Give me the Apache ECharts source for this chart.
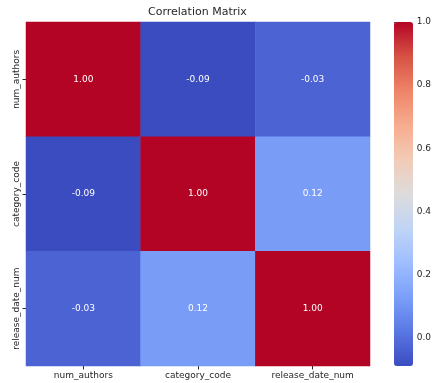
<!DOCTYPE html>
<html>
<head>
<meta charset="utf-8">
<script src="https://cdn.jsdelivr.net/npm/echarts@6/dist/echarts.min.js"></script>
<style>
  html, body { margin: 0; padding: 0; background: #fff; }
  #chart { width: 434px; height: 383px; }
</style>
</head>
<body>
<div id="chart"></div>
<script>
const labels = ["num_authors", "category_code", "release_date_num"];
const corr = [
  [1.00, -0.09, -0.03],
  [-0.09, 1.00, 0.12],
  [-0.03, 0.12, 1.00],
];
const cbarTicks = [0.0, 0.2, 0.4, 0.6, 0.8, 1.0];
const vMin = -0.09, vMax = 1.0;

// matplotlib coolwarm, 11 stops
const coolwarm = ["#3b4cc0", "#5977e3", "#7b9ff9", "#9ebeff", "#c0d4f5", "#dddcdc",
                  "#f2cbb7", "#f7ac8e", "#ee8468", "#d65244", "#b40426"];

const heatData = [];
for (let i = 0; i < labels.length; i++)
  for (let j = 0; j < labels.length; j++)
    heatData.push([j, i, corr[i][j]]);

const font = "DejaVu Sans";
const txt = "#262626";

const chart = echarts.init(document.getElementById("chart"));
chart.setOption({
  animation: false,
  backgroundColor: "#fff",
  textStyle: { fontFamily: font },
  title: {
    text: "Correlation Matrix", left: 148, top: 7, padding: 0,
    textStyle: { fontFamily: font, fontSize: 11, fontWeight: "normal", color: txt },
  },
  grid: [
    { left: 26, top: 22, width: 344, height: 344 },
    { left: 394, top: 22, width: 19, height: 344 },
  ],
  xAxis: [{
    type: "category", data: labels, gridIndex: 0,
    axisLine: { show: false }, splitLine: { show: false },
    axisTick: { show: true, alignWithLabel: true, length: 3.5, lineStyle: { color: txt } },
    axisLabel: { color: txt, fontSize: 9, margin: 5 },
  }, {
    type: "value", gridIndex: 1, show: false, min: 0, max: 1,
  }],
  yAxis: [{
    type: "category", data: labels, gridIndex: 0, inverse: true,
    axisLine: { show: false }, splitLine: { show: false },
    axisTick: { show: true, alignWithLabel: true, length: 3.5, lineStyle: { color: txt } },
    axisLabel: { color: txt, fontSize: 9, rotate: 90, margin: 5 },
  }, {
    type: "value", gridIndex: 1, position: "right", min: vMin, max: vMax,
    axisLine: { show: false }, splitLine: { show: false },
    axisTick: { show: true, length: 3.5, customValues: cbarTicks, lineStyle: { color: txt } },
    axisLabel: { color: txt, fontSize: 9, margin: 5, customValues: cbarTicks,
                 formatter: v => v.toFixed(1) },
  }],
  visualMap: {
    type: "continuous", min: vMin, max: vMax, seriesIndex: 0,
    calculable: false, orient: "vertical", left: 394, top: 22,
    itemWidth: 19, itemHeight: 344, padding: 0, text: null, showLabel: false,
    inRange: { color: coolwarm },
  },
  series: [{
    type: "heatmap", data: heatData, xAxisIndex: 0, yAxisIndex: 0,
    label: {
      show: true, color: "#fff", fontSize: 9, fontFamily: font,
      formatter: p => p.value[2].toFixed(2),
    },
  }, {
    type: "line", xAxisIndex: 1, yAxisIndex: 1, data: [], silent: true,
  }],
});
</script>
</body>
</html>
